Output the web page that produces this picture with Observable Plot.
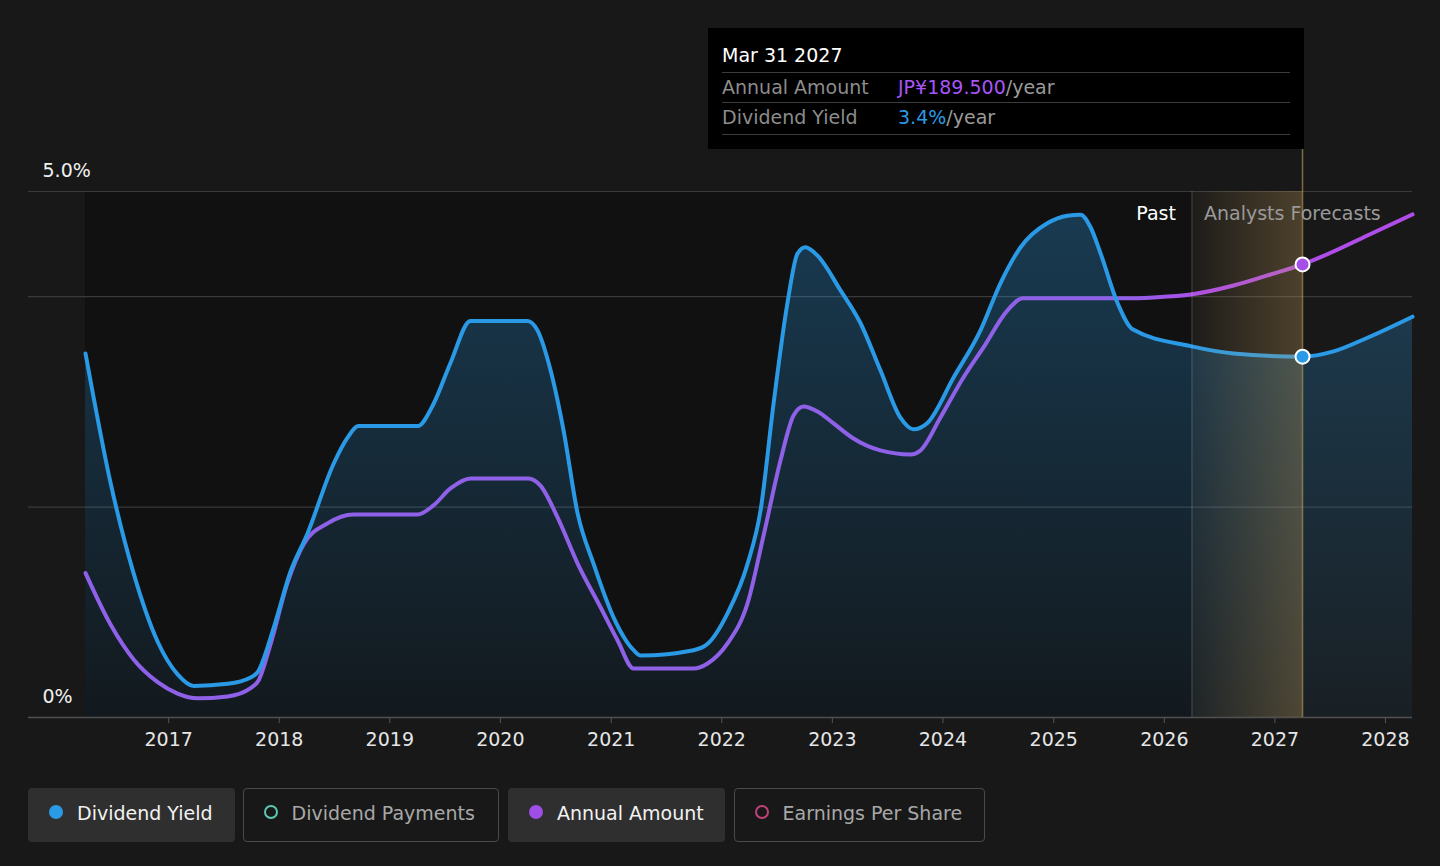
<!DOCTYPE html>
<html><head><meta charset="utf-8">
<script src="https://cdn.jsdelivr.net/npm/d3@7"></script>
<script src="https://cdn.jsdelivr.net/npm/@observablehq/plot@0.6"></script>
<style>
body{margin:0;background:#181818;font-family:"DejaVu Sans",sans-serif;}
#wrap{position:relative;width:1440px;height:866px;overflow:hidden;background:#181818;}
#wrap svg{position:absolute;left:0;top:0;}
.tip{position:absolute;top:28px;width:596px;height:121px;background:#000;}
.tip .t{position:absolute;left:14px;top:14px;font-size:19px;line-height:26px;color:#fff;white-space:nowrap;}
.tip .sep{position:absolute;left:14px;width:568px;height:0;border-top:1.5px solid #3c3c3c;}
.tip .row{position:absolute;left:14px;font-size:19px;line-height:26px;color:#8c8c8c;white-space:nowrap;}
.tip .row .v{position:absolute;left:176px;top:0;}
.leg{position:absolute;top:788px;height:54px;box-sizing:border-box;border-radius:4px;font-size:19px;line-height:50px;white-space:nowrap;}
.leg .mk{position:absolute;top:20px;width:14px;height:14px;border-radius:50%;box-sizing:border-box;}
.leg .lb{position:absolute;top:0;}
</style></head><body><div id="wrap"></div>
<script>
// ---- data (decimal years) ----
const yieldDates = [2016.250,2016.476,2016.684,2016.901,2017.081,2017.226,2017.533,2017.741,2017.804,2017.949,2018.103,2018.256,2018.491,2018.618,2018.717,2019.251,2019.395,2019.549,2019.730,2020.245,2020.335,2020.453,2020.570,2020.697,2020.841,2021.022,2021.203,2021.266,2021.745,2021.872,2022.052,2022.233,2022.351,2022.468,2022.594,2022.685,2022.757,2022.866,2023.074,2023.254,2023.435,2023.616,2023.733,2023.860,2024.095,2024.339,2024.520,2024.701,2024.945,2025.125,2025.243,2025.333,2025.424,2025.577,2025.713,2026.237,2026.626,2027.250,2027.530,2027.837,2028.244];
const yieldValues = [3.46,2.23,1.37,0.72,0.41,0.30,0.32,0.38,0.43,0.85,1.39,1.75,2.41,2.66,2.77,2.77,2.98,3.37,3.77,3.77,3.68,3.30,2.73,1.94,1.46,0.95,0.64,0.59,0.64,0.70,0.99,1.46,1.97,2.98,3.94,4.41,4.47,4.39,4.06,3.75,3.30,2.85,2.74,2.80,3.23,3.68,4.13,4.47,4.70,4.77,4.78,4.66,4.41,3.94,3.69,3.53,3.46,3.43,3.48,3.61,3.81];
const amountDates = [2016.250,2016.476,2016.684,2016.901,2017.081,2017.262,2017.533,2017.741,2017.813,2017.922,2018.076,2018.220,2018.437,2018.672,2019.251,2019.395,2019.549,2019.730,2020.254,2020.362,2020.516,2020.697,2020.905,2021.058,2021.203,2021.745,2021.872,2022.052,2022.233,2022.378,2022.531,2022.649,2022.739,2022.866,2023.011,2023.191,2023.435,2023.706,2023.797,2023.978,2024.185,2024.366,2024.583,2024.719,2025.632,2025.903,2026.237,2026.626,2026.933,2027.250,2027.530,2027.837,2028.244];
const amountValues = [60.4,38.9,24.3,14.8,10.0,8.0,8.8,12.3,15.5,30.7,56.5,72.4,81.2,84.9,84.9,88.7,95.8,100.0,100.0,97.0,83.7,64.4,46.0,32.2,20.5,20.5,22.6,31.0,47.7,76.1,107.5,126.3,130.1,128.0,123.0,116.7,111.7,110.0,111.7,125.5,142.2,154.8,170.3,175.3,175.3,175.7,176.9,180.7,184.9,189.5,194.9,201.6,210.4];
const yearTicks = [2017,2018,2019,2020,2021,2022,2023,2024,2025,2026,2027,2028];
const yLabels = [{v:5, label:"5.0%"},{v:0, label:"0%"}];
const gridValues = [2,4,5];
const domainStart = 2015.735, domainEnd = 2028.244;
const pastStart = 2016.25, forecastStart = 2026.25, tooltipDate = 2027.25;
const tooltipTitle = "Mar 31 2027";
const tooltipAmountText = "JP¥189.500", tooltipYieldText = "3.4%";
const amountMax = 220; // JP¥ amount drawn at the 5% level
const legendItems = [
  {name:"Dividend Yield", color:"#2a9ae6", active:true},
  {name:"Dividend Payments", color:"#5cc8b0", active:false},
  {name:"Annual Amount", color:"#a04ee8", active:true},
  {name:"Earnings Per Share", color:"#c0407a", active:false}
];

const BLUE = "#2a9ae6", PURPLE_PAST = "#8f60e8", PURPLE_FC = "#b04de8";
function toDate(t){const y=Math.floor(t);const s=Date.UTC(y,0,1),e=Date.UTC(y+1,0,1);return new Date(s+(t-y)*(e-s));}
const yieldData = yieldDates.map((t,i)=>({date:toDate(t), value:yieldValues[i]}));
const amountData = amountDates.map((t,i)=>({date:toDate(t), value:amountValues[i]/amountMax*5}));
const tipIdxY = yieldDates.indexOf(tooltipDate), tipIdxA = amountDates.indexOf(tooltipDate);

const chart = Plot.plot({
  width:1440, height:760, marginLeft:28, marginRight:28, marginTop:191, marginBottom:43,
  style:{background:"transparent", color:"#ddd", fontFamily:"DejaVu Sans", fontSize:"19px", overflow:"visible"},
  x:{type:"utc", domain:[toDate(domainStart), toDate(domainEnd)]},
  y:{domain:[0,5], axis:null},
  marks:[
    Plot.rect([{a:toDate(pastStart), b:toDate(forecastStart)}], {x1:"a", x2:"b", y1:0, y2:5, fill:"#111111"}),
    Plot.ruleY(gridValues, {stroke:"#3a3a3a", strokeWidth:1.2}),
    Plot.areaY(yieldData, {x:"date", y:"value", fill:"url(#areaGrad)", curve:"monotone-x"}),
    Plot.ruleY([0], {stroke:"#505050", strokeWidth:1.5}),
    Plot.lineY(amountData, {x:"date", y:"value", stroke:"url(#amountGrad)", strokeWidth:4, curve:"monotone-x"}),
    Plot.lineY(yieldData, {x:"date", y:"value", stroke:BLUE, strokeWidth:4, curve:"monotone-x"}),
    Plot.rect([{a:toDate(forecastStart), b:toDate(tooltipDate)}], {x1:"a", x2:"b", y1:0, y2:5, fill:"url(#bandGrad)"}),
    Plot.ruleX([toDate(forecastStart)], {y1:0, y2:5, stroke:"rgba(255,255,255,0.16)", strokeWidth:1.2}),
    Plot.ruleX([toDate(tooltipDate)], {y1:0, y2:5.4, stroke:"rgba(200,165,95,0.6)", strokeWidth:1.5}),
    Plot.dot([amountData[tipIdxA]], {x:"date", y:"value", r:7, fill:"#a64ee8", stroke:"#fff", strokeWidth:2}),
    Plot.dot([yieldData[tipIdxY]], {x:"date", y:"value", r:7, fill:BLUE, stroke:"#fff", strokeWidth:2}),
    Plot.text([toDate(forecastStart)], {x:d=>d, y:5, dy:22, dx:-16, text:()=>"Past", textAnchor:"end", fill:"#ffffff", fontSize:19}),
    Plot.text([toDate(forecastStart)], {x:d=>d, y:5, dy:22, dx:12, text:()=>"Analysts Forecasts", textAnchor:"start", fill:"#9a9a9a", fontSize:19}),
    Plot.text(yLabels, {frameAnchor:"left", y:"v", text:"label", dx:14, dy:-21, textAnchor:"start", fill:"#f0f0f0", fontSize:19}),
    Plot.axisX(yearTicks.map(toDate), {tickFormat:d3.utcFormat("%Y"), tickSize:6, tickPadding:9, stroke:"#555", fill:"#e6e6e6", fontSize:19})
  ]
});

const xs = chart.scale("x");
const px = t => xs.apply(toDate(t));
const defs = d3.select(chart).insert("defs", ":first-child");
const ag = defs.append("linearGradient").attr("id","areaGrad").attr("x1",0).attr("y1",0).attr("x2",0).attr("y2",1);
ag.append("stop").attr("offset",0).attr("stop-color",BLUE).attr("stop-opacity",0.3);
ag.append("stop").attr("offset",1).attr("stop-color",BLUE).attr("stop-opacity",0.06);
const mg = defs.append("linearGradient").attr("id","amountGrad").attr("gradientUnits","userSpaceOnUse")
  .attr("x1",px(forecastStart-0.6)).attr("x2",px(forecastStart+0.1)).attr("y1",0).attr("y2",0);
mg.append("stop").attr("offset",0).attr("stop-color",PURPLE_PAST);
mg.append("stop").attr("offset",1).attr("stop-color",PURPLE_FC);
const bg = defs.append("linearGradient").attr("id","bandGrad").attr("gradientUnits","userSpaceOnUse")
  .attr("x1",px(forecastStart)).attr("x2",px(tooltipDate)).attr("y1",0).attr("y2",0);
bg.append("stop").attr("offset",0).attr("stop-color","#c8a05a").attr("stop-opacity",0.03);
bg.append("stop").attr("offset",1).attr("stop-color","#c8a05a").attr("stop-opacity",0.3);

const wrap = document.getElementById("wrap");
wrap.appendChild(chart);

// tooltip
const tip = document.createElement("div");
tip.className = "tip";
tip.style.left = (px(tooltipDate) + 2 - 596) + "px";
tip.innerHTML = `<div class="t">${tooltipTitle}</div>
<div class="sep" style="top:44px"></div>
<div class="row" style="top:46px">Annual Amount<span class="v"><span style="color:#a855f7">${tooltipAmountText}</span><span style="color:#9a9a9a">/year</span></span></div>
<div class="sep" style="top:74px"></div>
<div class="row" style="top:76px">Dividend Yield<span class="v"><span style="color:${BLUE}">${tooltipYieldText}</span><span style="color:#9a9a9a">/year</span></span></div>
<div class="sep" style="top:106px"></div>`;
wrap.appendChild(tip);

// legend
const legLayout = [{l:28,w:207},{l:243,w:256},{l:508,w:217},{l:734,w:251}];
legendItems.forEach((it,i)=>{
  const d = document.createElement("div");
  d.className = "leg";
  d.style.left = legLayout[i].l + "px";
  d.style.width = legLayout[i].w + "px";
  if (it.active) { d.style.background = "#2f2f2f"; }
  else { d.style.border = "1.5px solid #4a4a4a"; }
  const off = it.active ? 0 : -1.5;
  const mk = document.createElement("span");
  mk.className = "mk";
  mk.style.left = (21 + off) + "px";
  mk.style.top = (17 + off) + "px";
  if (it.active) mk.style.background = it.color; else mk.style.border = "2px solid " + it.color;
  const lb = document.createElement("span");
  lb.className = "lb";
  lb.style.left = (49 + off) + "px";
  lb.style.top = off + "px";
  lb.style.color = it.active ? "#f2f2f2" : "#a8a8a8";
  lb.textContent = it.name;
  d.appendChild(mk); d.appendChild(lb);
  wrap.appendChild(d);
});
</script></body></html>
